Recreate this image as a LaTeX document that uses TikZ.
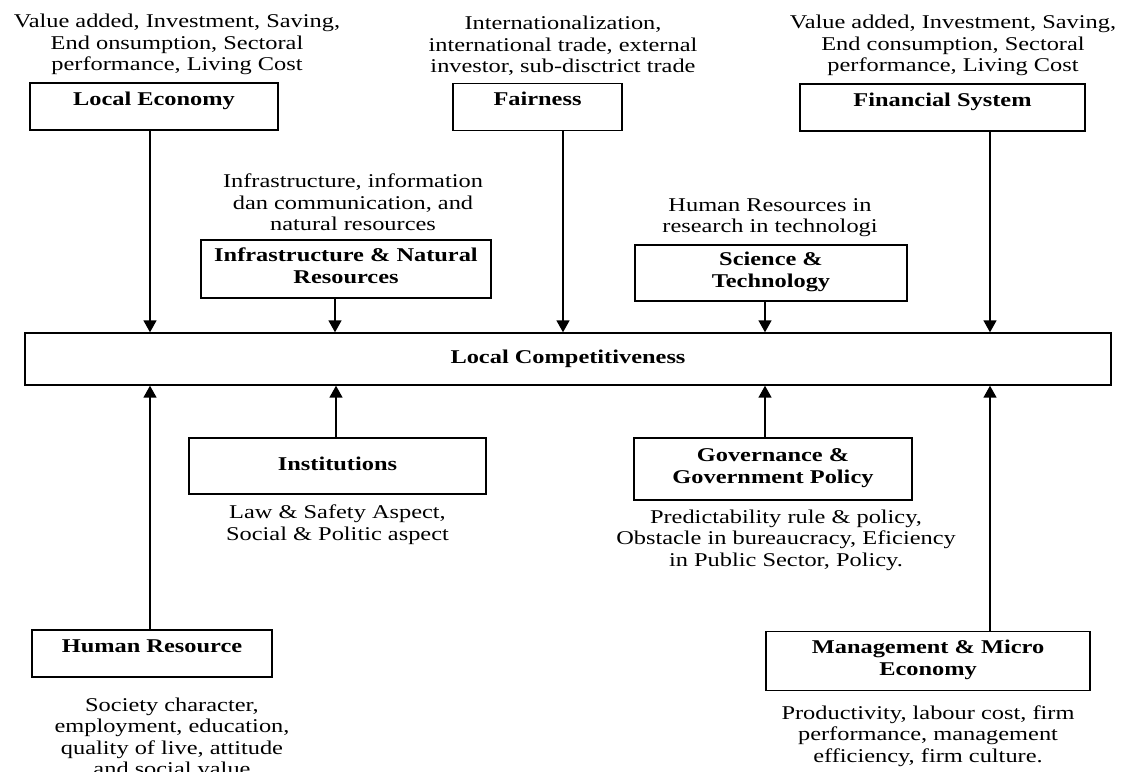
\documentclass[tikz,border=0pt]{standalone}
\usepackage{fontspec}
\setmainfont[FakeStretch=1.25]{Liberation Serif}
\usepackage{tikz}
\usetikzlibrary{positioning,arrows.meta}
\newcommand\diagramFont{\fontsize{19.5}{21.5}\selectfont}
\newcommand\topTitle[1]{\rule{0pt}{20pt}#1\\\rule[-1.5pt]{0pt}{1.5pt}}
\tikzset{
  frame-style/.style = {
    rectangle, draw, line width=1.4pt,
    font=\diagramFont\bfseries,
    align=center,
    inner xsep=4pt, inner ysep=2pt
  },
  factor-style/.style 2 args = {
    frame-style,
    execute at begin node=\strut,
    execute at end node=\strut,
    minimum width=#1,
    minimum height=#2
  },
  head-style/.style = {
    frame-style,
    minimum width=#1
  },
  desc-style/.style = {
    font=\diagramFont, align=center, inner sep=2pt
  },
  every edge/.style = {draw, -{Triangle[width=13pt,length=12pt]}, line width=1.6pt}
}
\def\linkDown from:#1 shift:#2;{
  \path ([xshift=#2]#1.south) edge ([xshift=#2]#1.south |- comp.north);
}
\def\linkUp from:#1 shift:#2;{
  \path ([xshift=#2]#1.north) edge ([xshift=#2]#1.north |- comp.south);
}
\begin{document}
\begin{tikzpicture}[x=1pt,y=-1pt]
    \useasboundingbox (0,0) rectangle (1121,771);

    % central box
    \node[factor-style={1086pt}{52pt}] (comp) at (568,359) {Local Competitiveness};

    % factors above
    \node[head-style=248pt] (economy) at (154,106.5) {\topTitle{Local Economy}};
    \node[head-style=169pt] (fairness) at (537.5,107) {\topTitle{Fairness}};
    \node[head-style=285pt] (finance) at (942.5,107.5) {\topTitle{Financial System}};
    \node[factor-style={290pt}{58pt}] (infra) at (346,269) {Infrastructure \& Natural\\Resources};
    \node[factor-style={272pt}{56pt}] (science) at (771,273) {Science \&\\Technology};

    % factors below
    \node[factor-style={297pt}{56pt}] (institution) at (337.5,466) {Institutions};
    \node[factor-style={278pt}{62pt}] (governance) at (773,469) {Governance \&\\Government Policy};
    \node[head-style=240pt] (human) at (152,653.5) {\topTitle{Human Resource}};
    \node[factor-style={324pt}{59pt}] (management) at (928,661) {Management \& Micro\\Economy};

    % descriptions
    \node[desc-style, above=5pt of economy, xshift=23pt] (economy-desc)
      {Value added, Investment, Saving,\\End onsumption, Sectoral\\performance, Living Cost};
    \node[desc-style, above=5pt of fairness, xshift=25.5pt] (fairness-desc)
      {Internationalization,\\international trade, external\\investor, sub-disctrict trade};
    \node[desc-style, above=5pt of finance, xshift=10.5pt] (finance-desc)
      {Value added, Investment, Saving,\\End consumption, Sectoral\\performance, Living Cost};
    \node[desc-style, above=6pt of infra, xshift=7pt] (infra-desc)
      {Infrastructure, information\\dan communication, and\\natural resources};
    \node[desc-style, above=5pt of science, xshift=-1pt] (science-desc)
      {Human Resources in\\research in technologi};
    \node[desc-style, below=8pt of institution] (institution-desc)
      {Law \& Safety Aspect,\\Social \& Politic aspect};
    \node[desc-style, below=7pt of governance, xshift=13pt] (governance-desc)
      {Predictability rule \& policy,\\Obstacle in bureaucracy, Eficiency\\in Public Sector, Policy.};
    \node[desc-style, below=18pt of human, xshift=20pt] (human-desc)
      {Society character,\\employment, education,\\quality of live, attitude\\and social value};
    \node[desc-style, below=12pt of management] (management-desc)
      {Productivity, labour cost, firm\\performance, management\\efficiency, firm culture.};

    % arrows into the central box
    \linkDown from:economy shift:-4pt;
    \linkDown from:infra shift:-11pt;
    \linkDown from:fairness shift:25.5pt;
    \linkDown from:science shift:-6pt;
    \linkDown from:finance shift:47.5pt;
    \linkUp from:human shift:-2pt;
    \linkUp from:institution shift:-1.5pt;
    \linkUp from:governance shift:-8pt;
    \linkUp from:management shift:62pt;
\end{tikzpicture}
\end{document}
